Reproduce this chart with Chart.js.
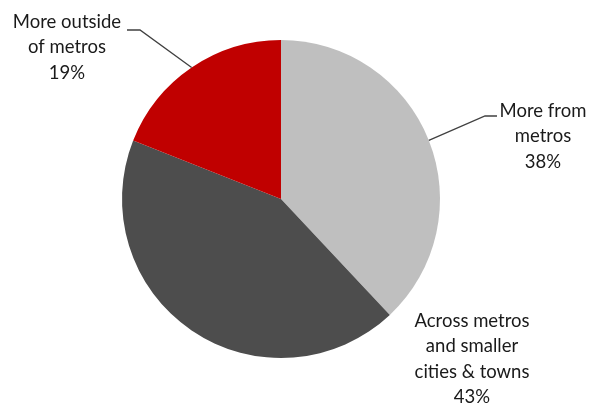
<!DOCTYPE html>
<html>
<head>
<meta charset="utf-8">
<script src="https://cdn.jsdelivr.net/npm/chart.js@4.4.1/dist/chart.umd.min.js"></script>
<style>
  html, body { margin: 0; padding: 0; background: #fff; }
  #wrap { width: 591px; height: 406px; position: relative; }
</style>
</head>
<body>
<div id="wrap"><canvas id="pie"></canvas></div>
<script>
// Fatias na ordem do sentido horário, começando às 12h
const categories = [
  ['More from', 'metros'],
  ['Across metros', 'and smaller', 'cities & towns'],
  ['More outside', 'of metros']
];
const shares = [38, 43, 19];
const colors = ['#BFBFBF', '#4D4D4D', '#C00000'];

// Posição dos rótulos (centro do texto) e do cotovelo da linha guia
const labelLayout = [
  { x: 543, y: 111, elbow: [485, 116], end: [497, 116] },
  { x: 472, y: 321, elbow: null },
  { x: 67, y: 22, elbow: [140, 30], end: [127, 30] }
];

const sliceLabels = {
  id: 'sliceLabels',
  afterDatasetsDraw(chart) {
    const ctx = chart.ctx;
    const arcs = chart.getDatasetMeta(0).data;
    ctx.save();
    ctx.font = "18.5px Lato, sans-serif";
    ctx.fillStyle = '#1a1a1a';
    ctx.textAlign = 'center';
    ctx.textBaseline = 'middle';
    arcs.forEach((arc, i) => {
      const pos = labelLayout[i];
      const { x, y, startAngle, endAngle, outerRadius } = arc.getProps(['x', 'y', 'startAngle', 'endAngle', 'outerRadius'], true);
      if (pos.elbow) {
        const mid = (startAngle + endAngle) / 2;
        ctx.beginPath();
        ctx.strokeStyle = '#404040';
        ctx.lineWidth = 1.3;
        ctx.moveTo(x + Math.cos(mid) * outerRadius, y + Math.sin(mid) * outerRadius);
        ctx.lineTo(pos.elbow[0], pos.elbow[1]);
        ctx.lineTo(pos.end[0], pos.end[1]);
        ctx.stroke();
      }
      const lines = categories[i].concat([shares[i] + '%']);
      lines.forEach((t, k) => ctx.fillText(t, pos.x, pos.y + k * 25.5));
    });
    ctx.restore();
  }
};

new Chart(document.getElementById('pie'), {
  type: 'pie',
  data: {
    labels: categories.map(c => c.join(' ')),
    datasets: [{
      data: shares,
      backgroundColor: colors,
      borderWidth: 0
    }]
  },
  options: {
    responsive: true,
    maintainAspectRatio: false,
    animation: false,
    layout: { padding: { left: 122, right: 151, top: 40, bottom: 48 } },
    plugins: {
      legend: { display: false },
      tooltip: { enabled: false }
    }
  },
  plugins: [sliceLabels]
});
</script>
</body>
</html>
